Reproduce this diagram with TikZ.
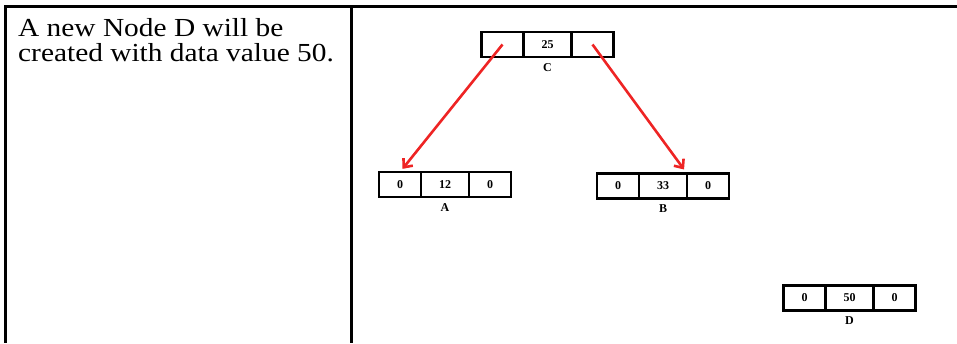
\documentclass[tikz,border=0pt]{standalone}
\usepackage{fontspec}
\setmainfont{Liberation Serif}
\newfontfamily\notefont[FakeStretch=1.13]{Liberation Serif}
\usetikzlibrary{positioning, arrows.meta}
\usepackage{xcolor}
\definecolor{linkred}{HTML}{EE2424}

\begin{document}
\begin{tikzpicture}[x=1pt, y=-1pt,
    side/.style={draw, line width=2.8pt, minimum width=42pt, minimum height=25pt,
                 inner sep=0pt, outer sep=0pt, font=\fontsize{12}{14}\selectfont\bfseries},
    mid/.style={side, minimum width=48pt},
    tag/.style={inner sep=0pt, font=\fontsize{12}{14}\selectfont\bfseries},
    link/.style={draw=linkred, line width=2.6pt, -{Straight Barb[length=7pt, width=12pt]}},
    rule/.style={line width=3pt}]
    \useasboundingbox (0,0) rectangle (957,343);

    % table frame
    \coordinate (tl) at (4,6.5);
    \coordinate (tr) at (957,6.5);
    \draw[rule] (tl) -- (tr);
    \draw[rule] (5.5,5) -- (5.5,343);
    \draw[rule] (351.5,5) -- (351.5,343);

    \node[anchor=north west, inner sep=0pt, align=left,
          font=\notefont\fontsize{26}{25}\selectfont] (note) at (18,18)
      {A new Node D will be\\ created with data value 50.};

    % node C
    \node[side] (cL) at (502.5,44.5) {};
    \node[mid, right=0pt of cL] (cM) {25};
    \node[side, right=0pt of cM] (cR) {};
    \node[tag, below=6pt of cM] (cTag) {C};

    % node A
    \node[side] (aL) at (400,184.5) {0};
    \node[mid, right=0pt of aL] (aM) {12};
    \node[side, right=0pt of aM] (aR) {0};
    \node[tag, below=6pt of aM] (aTag) {A};

    % node B
    \node[side] (bL) at (618,186) {0};
    \node[mid, right=0pt of bL] (bM) {33};
    \node[side, right=0pt of bM] (bR) {0};
    \node[tag, below=6pt of bM] (bTag) {B};

    % node D
    \node[side] (dL) at (804.5,298) {0};
    \node[mid, right=0pt of dL] (dM) {50};
    \node[side, right=0pt of dM] (dR) {0};
    \node[tag, below=6pt of dM] (dTag) {D};

    % links
    \draw[link, shorten >=4pt] (cL.center) -- (aL.north);
    \draw[link, shorten >=5pt] (cR.center) -- (bM.north east);
  \end{tikzpicture}
\end{document}
